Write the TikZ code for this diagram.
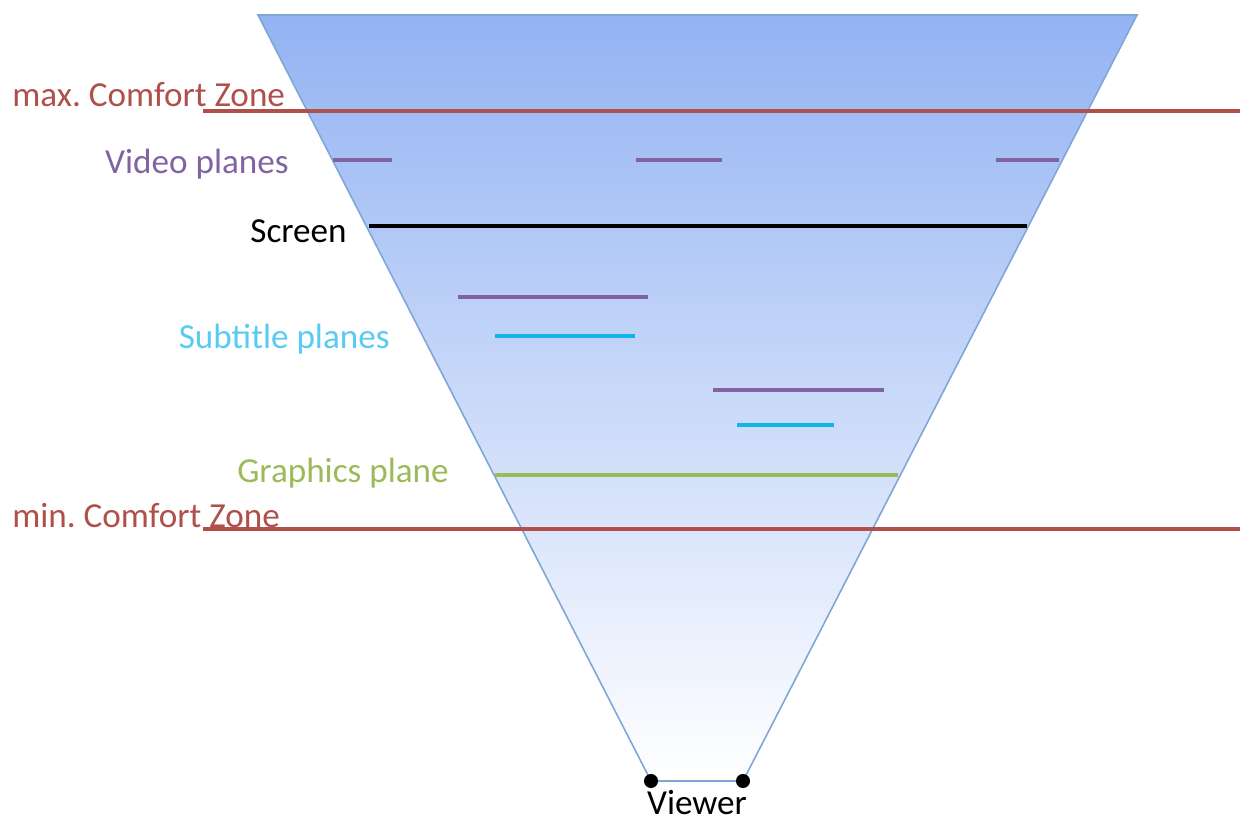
\documentclass[tikz,border=0pt]{standalone}
\usepackage{fontspec}
\setmainfont{Carlito}
\usepackage{tikz}
\usetikzlibrary{positioning,calc}
\frenchspacing

\definecolor{zonered}{HTML}{B0504B}
\definecolor{videopurple}{HTML}{8064A2}
\definecolor{subcyan}{HTML}{12B4EC}
\definecolor{gfxgreen}{HTML}{9BBB59}
\definecolor{coneblue}{HTML}{93B3F3}
\definecolor{coneedge}{HTML}{7FA6D6}

\tikzset{
  lbl/.style={font=\fontsize{20}{24}\selectfont, inner sep=0pt},
  plane/.style={line width=2pt},
  viewpt/.style={circle, fill=black, inner sep=0pt, minimum size=8pt}
}

\begin{document}
\begin{tikzpicture}[x=0.02cm, y=-0.02cm]
\useasboundingbox (0,0) rectangle (1240,823);
% viewing cone
\coordinate (TL) at (258,15);
\coordinate (TR) at (1137,15);
\coordinate (VL) at (651,781);
\coordinate (VR) at (743,781);
\shade[top color=coneblue, bottom color=white, draw=coneedge, line width=0.9pt]
  (TL) -- (TR) -- (VR) -- (VL) -- cycle;
\node[viewpt] (eyeL) at (VL) {};
\node[viewpt] (eyeR) at (VR) {};
\node[lbl, anchor=base] (viewer) at (697,814) {Viewer};

% comfort zone limits
\draw[plane, zonered] (203,111) -- (1240,111);
\draw[plane, zonered] (203,529) -- (1240,529);
\node[lbl, anchor=base west, text=zonered] (maxzone) at (12,106) {max. Comfort Zone};
\node[lbl, anchor=base west, text=zonered] (minzone) at (12,527) {min. Comfort Zone};

% video planes
\draw[plane, videopurple] (333,160) -- (392,160);
\draw[plane, videopurple] (636,160) -- (722,160);
\draw[plane, videopurple] (996,160) -- (1059,160);
\draw[plane, videopurple] (458,297) -- (648,297);
\draw[plane, videopurple] (713,390) -- (884,390);
\node[lbl, anchor=base east, text=videopurple] (video) at (289,173) {Video planes};

% screen
\draw[plane, black] (369,226) -- (1027,226);
\node[lbl, anchor=base east] (screen) at (347,242) {Screen};

% subtitle planes
\draw[plane, subcyan] (495,336) -- (635,336);
\draw[plane, subcyan] (737,425) -- (834,425);
\node[lbl, anchor=base east, text=subcyan!70] (subtitle) at (390,348) {Subtitle planes};

% graphics plane
\draw[plane, gfxgreen] (495,475) -- (898,475);
\node[lbl, anchor=base east, text=gfxgreen] (graphics) at (449,482) {Graphics plane};
\end{tikzpicture}
\end{document}
